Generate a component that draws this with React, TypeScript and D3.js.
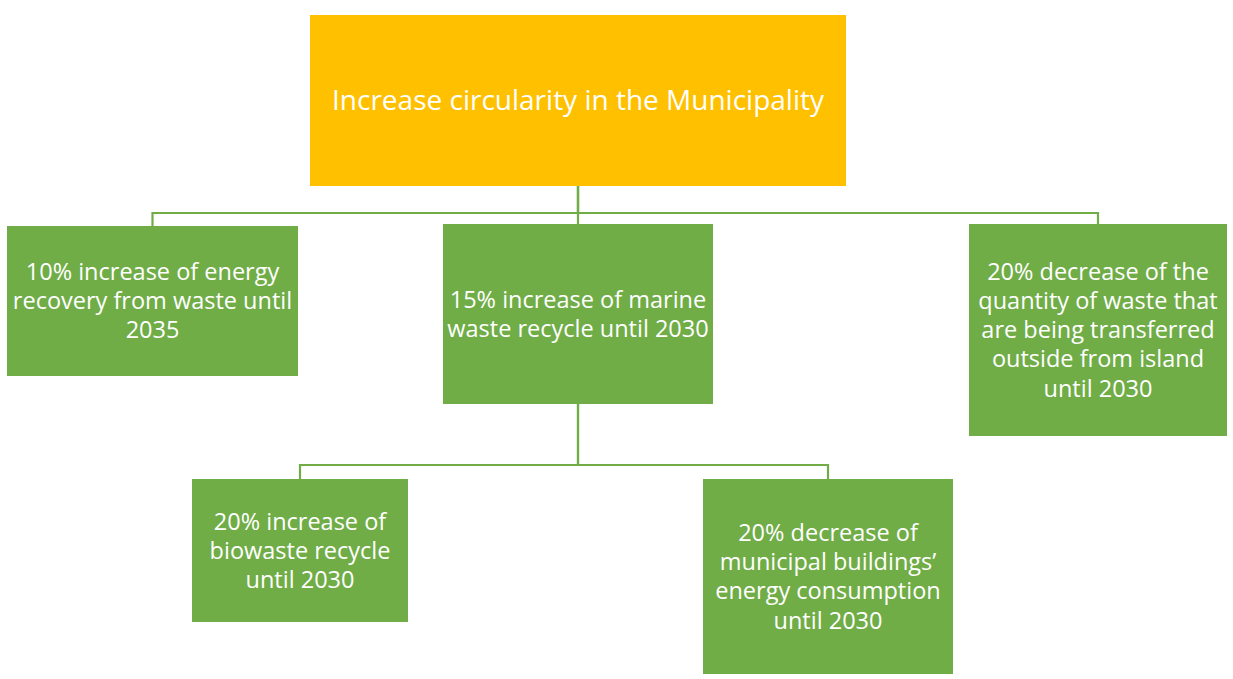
import React, { useEffect, useRef } from "react";
import * as d3 from "d3";

// goal tree: each node has text lines and a parent
const nodeIds = ["root", "energy", "marine", "transfer", "biowaste", "buildings"];
const nodeLines = [
  ["Increase circularity in the Municipality"],
  ["10% increase of energy", "recovery from waste until", "2035"],
  ["15% increase of marine", "waste recycle until 2030"],
  ["20% decrease of the", "quantity of waste that", "are being transferred", "outside from island", "until 2030"],
  ["20% increase of", "biowaste recycle", "until 2030"],
  ["20% decrease of", "municipal buildings\u2019", "energy consumption", "until 2030"],
];
const nodeParents = [null, "root", "root", "root", "marine", "marine"];
const nodeKinds = ["goal", "target", "target", "target", "target", "target"];

// box layout (page pixels)
const layout: Record<string, { x: number; y: number; w: number; h: number; busY?: number }> = {
  root: { x: 310, y: 15, w: 536, h: 171, busY: 213 },
  energy: { x: 7, y: 226, w: 291, h: 150 },
  marine: { x: 443, y: 224, w: 270, h: 180, busY: 465 },
  transfer: { x: 969, y: 224, w: 258, h: 212 },
  biowaste: { x: 192, y: 479, w: 216, h: 143 },
  buildings: { x: 703, y: 479, w: 250, h: 195 },
};

const colors = { goal: "#FFC000", target: "#70AD47", link: "#70AD47" };

const W = 1233;
const H = 679;

const App = () => {
  const svgRef = useRef<SVGSVGElement>(null);

  useEffect(() => {
    const svg = d3.select(svgRef.current);
    svg.selectAll("*").remove();

    const nodes = nodeIds.map((id, i) => ({
      id,
      lines: nodeLines[i],
      parent: nodeParents[i],
      kind: nodeKinds[i],
      ...layout[id],
    }));
    const byId = new Map(nodes.map((n) => [n.id, n]));

    // elbow connectors
    const links = nodes.filter((n) => n.parent).map((n) => ({ s: byId.get(n.parent!)!, t: n }));
    svg.append("g")
      .selectAll("path")
      .data(links)
      .join("path")
      .attr("fill", "none")
      .attr("stroke", colors.link)
      .attr("stroke-width", 2.2)
      .attr("d", (d) => {
        const sx = d.s.x + d.s.w / 2;
        const tx = d.t.x + d.t.w / 2;
        const p = d3.path();
        p.moveTo(sx, d.s.y + d.s.h);
        p.lineTo(sx, d.s.busY!);
        p.lineTo(tx, d.s.busY!);
        p.lineTo(tx, d.t.y);
        return p.toString();
      });

    const g = svg.append("g")
      .selectAll("g")
      .data(nodes)
      .join("g")
      .attr("transform", (d) => `translate(${d.x},${d.y})`);

    g.append("rect")
      .attr("width", (d) => d.w)
      .attr("height", (d) => d.h)
      .attr("fill", (d) => (d.kind === "goal" ? colors.goal : colors.target));

    g.each(function (d) {
      const fs = d.kind === "goal" ? 28 : 23.5;
      const lh = 29.2;
      const text = d3.select(this).append("text")
        .attr("text-anchor", "middle")
        .attr("fill", "#fff")
        .attr("font-family", "'Open Sans', sans-serif")
        .attr("font-size", fs);
      const top = d.h / 2 - ((d.lines.length - 1) * lh) / 2;
      d.lines.forEach((line, i) => {
        text.append("tspan")
          .attr("x", d.w / 2)
          .attr("y", top + i * lh)
          .attr("dy", "0.35em")
          .text(line);
      });
    });
  }, []);

  return <svg ref={svgRef} width={W} height={H} style={{ position: "absolute", left: 0, top: 0 }} />;
};

export default App;
